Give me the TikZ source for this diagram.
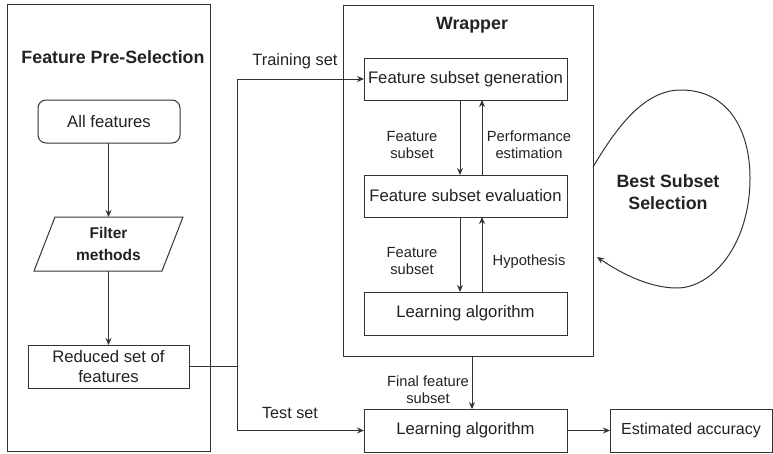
\documentclass[tikz,border=0pt]{standalone}
\usepackage{fontspec}
\setmainfont{Liberation Sans}
\usetikzlibrary{arrows.meta}
\definecolor{lc}{HTML}{333333}
\definecolor{tc}{HTML}{222222}
\newcommand{\fmain}{\fontsize{16.7}{20}\selectfont}
\newcommand{\flab}{\fontsize{14.7}{17}\selectfont}
\newcommand{\ftitle}{\fontsize{17.8}{22}\selectfont\bfseries}
\begin{document}
\begin{tikzpicture}[x=1pt,y=-1pt,
  line width=1pt,
  box/.style={draw=lc, text=tc, minimum width=203pt, minimum height=43pt, inner sep=0pt, outer sep=0pt, font=\fmain, align=center},
  lab/.style={text=tc, font=\flab, align=center, inner sep=0pt},
  ttl/.style={text=tc, font=\ftitle, align=center, inner sep=0pt},
  arr/.style={draw=lc, -{Stealth[length=7pt,width=6pt]}},
  conn/.style={draw=lc}]
\useasboundingbox (0,0) rectangle (773,453);
% containers
\node[draw=lc, minimum width=203pt, minimum height=447pt, inner sep=0pt, outer sep=0pt] (pre) at (108.5,227.5) {};
\node[draw=lc, minimum width=250pt, minimum height=351pt, inner sep=0pt, outer sep=0pt] (wrap) at (468,180.5) {};
\node[ttl] (pretitle) at (113,57) {Feature Pre-Selection};
\node[ttl] (wraptitle) at (472,25) {Wrapper};
% left column
\node[box, rounded corners=8pt, minimum width=142pt] (allf) at (109,121.5) {All features};
\draw[lc] (55,217) -- (183,217) -- (162,271) -- (34,271) -- cycle;
\node[text=tc, font=\fontsize{15.5}{22}\selectfont\bfseries, align=center, minimum height=54pt, inner sep=0pt, outer sep=0pt] (filt) at (108.5,244) {Filter\\methods};
\node[box, minimum width=161pt, font=\fontsize{16.7}{20}\selectfont] (red) at (108.5,366.5) {Reduced set of\\features};
\draw[arr] (allf.south -| filt.north) -- (filt.north);
\draw[arr] (filt.south) -- (red.north -| filt.south);
% wrapper content
\node[box, minimum height=42pt] (gen) at (465.5,79) {Feature subset generation};
\node[box, minimum height=42pt] (eval) at (465.5,196) {Feature subset evaluation};
\node[box] (la1) at (465.5,313.5) {Learning algorithm};
\coordinate (dx) at (460,0);
\coordinate (ux) at (482,0);
\draw[arr] (gen.south -| dx) -- (eval.north -| dx);
\draw[arr] (eval.north -| ux) -- (gen.south -| ux);
\draw[arr] (eval.south -| dx) -- (la1.north -| dx);
\draw[arr] (la1.north -| ux) -- (eval.south -| ux);
\node[lab] (l1) at (412,145) {Feature\\subset};
\node[lab] (l2) at (529,145) {Performance\\estimation};
\node[lab] (l3) at (412,261) {Feature\\subset};
\node[lab] (l4) at (529,262) {Hypothesis};
% bottom row
\node[box] (la2) at (465.5,430.5) {Learning algorithm};
\node[box, minimum width=162pt, font=\fontsize{16}{20}\selectfont] (est) at (691,430.5) {Estimated accuracy};
\coordinate (fx) at (472,0);
\draw[arr] (wrap.south -| fx) -- (la2.north -| fx);
\node[lab] (l5) at (428,390) {Final feature\\subset};
\draw[arr] (la2.east) -- (est.west);
% training / test split
\coordinate (j) at (237,0);
\draw[conn] (red.east) -- (red.east -| j);
\draw[arr] (red.east -| j) |- (gen.west);
\draw[arr] (red.east -| j) |- (la2.west);
\node[text=tc, font=\fontsize{16.4}{20}\selectfont, inner sep=0pt] (trn) at (295,61) {Training set};
\node[text=tc, font=\fontsize{16.2}{20}\selectfont, inner sep=0pt] (tst) at (290,413) {Test set};
% best subset loop
\coordinate (ls) at (593,167);
\coordinate (le) at (597,257);
\draw[arr] (ls) .. controls (618,125) and (645,90) .. (681,90)
  .. controls (728,90) and (750,130) .. (750,178)
  .. controls (750,245) and (712,288) .. (677,288)
  .. controls (650,288) and (622,274) .. (le);
\node[ttl] (bss) at (668,192) {Best Subset\\Selection};
\end{tikzpicture}
\end{document}
